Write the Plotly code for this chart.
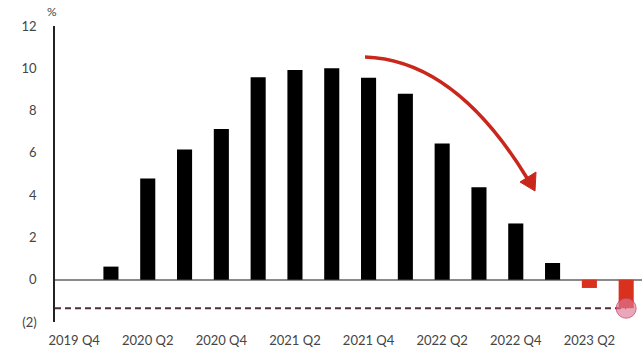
import plotly.graph_objects as go

quarters = ["2019 Q4", "2020 Q1", "2020 Q2", "2020 Q3", "2020 Q4", "2021 Q1", "2021 Q2", "2021 Q3",
            "2021 Q4", "2022 Q1", "2022 Q2", "2022 Q3", "2022 Q4", "2023 Q1", "2023 Q2", "2023 Q3"]
values = [0.0, 0.62, 4.79, 6.16, 7.13, 9.58, 9.92, 10.0, 9.55, 8.8, 6.44, 4.37, 2.66, 0.79, -0.39, -1.35]
threshold = -1.35
tick_labels = ["2019 Q4", "2020 Q2", "2020 Q4", "2021 Q2", "2021 Q4", "2022 Q2", "2022 Q4", "2023 Q2"]
y_ticks = [-2, 0, 2, 4, 6, 8, 10, 12]
y_tick_text = ["(2)", "0", "2", "4", "6", "8", "10", "12"]

W, H = 642, 352
L, R, T, B = 55, 0, 26, 30
pw, ph = W - L - R, H - T - B

def px(x):
    return (x - L) / pw

def py(y):
    return (H - B - y) / ph

colors = ["#000000" if v >= 0 else "#d8321f" for v in values]
xi = list(range(len(quarters)))

fig = go.Figure()
fig.add_trace(go.Bar(x=xi, y=values, marker=dict(color=colors, line=dict(width=0)), width=0.41,
                     hoverinfo="skip"))
fig.add_trace(go.Scatter(x=[xi[-1]], y=[values[-1]], mode="markers",
                         marker=dict(size=20, color="rgba(222,120,150,0.65)",
                                     line=dict(color="rgba(200,60,90,0.7)", width=1)),
                         hoverinfo="skip"))

fig.add_shape(type="line", xref="x", yref="y", x0=-0.52, x1=xi[-1], y0=threshold, y1=threshold,
              line=dict(color="#4e3034", width=1.8, dash="6px,4px"), layer="below")

# curved arrow
sx, sy = 365, 57
cx, cy = 455, 60
ex, ey = 527, 178
path = f"M {px(sx)},{py(sy)} Q {px(cx)},{py(cy)} {px(ex)},{py(ey)}"
fig.add_shape(type="path", xref="paper", yref="paper", path=path,
              line=dict(color="#c9271c", width=3.5))
tri = f"M {px(535)},{py(191)} L {px(520)},{py(182)} L {px(536)},{py(172)} Z"
fig.add_shape(type="path", xref="paper", yref="paper", path=tri,
              fillcolor="#c9271c", line=dict(color="#c9271c", width=1))

fig.add_annotation(text="%", xref="paper", yref="paper", x=px(52), y=py(12), showarrow=False,
                   font=dict(size=12, color="#444"), xanchor="center", yanchor="middle")

fig.update_layout(
    width=W, height=H, margin=dict(l=L, r=R, t=T, b=B),
    paper_bgcolor="white", plot_bgcolor="white", showlegend=False,
    font=dict(family="Lato, sans-serif", size=13, color="#444"),
    bargap=0.6,
)
fig.update_xaxes(range=[-0.52, 15.43], tickmode="array", tickvals=xi[::2], ticktext=tick_labels,
                 showgrid=False, zeroline=False, showline=False, ticks="outside", ticklen=6,
                 tickcolor="rgba(0,0,0,0)", tickfont=dict(size=13, color="#444"))
fig.update_yaxes(range=[-2, 12], tickmode="array", tickvals=y_ticks, ticktext=y_tick_text,
                 showgrid=False, zeroline=True, zerolinecolor="#8a8a8a", zerolinewidth=1.5,
                 showline=True, linecolor="#222", linewidth=1.5, ticks="outside", ticklen=14,
                 tickcolor="rgba(0,0,0,0)", tickfont=dict(size=13, color="#444"))

fig.write_html("out.html")
